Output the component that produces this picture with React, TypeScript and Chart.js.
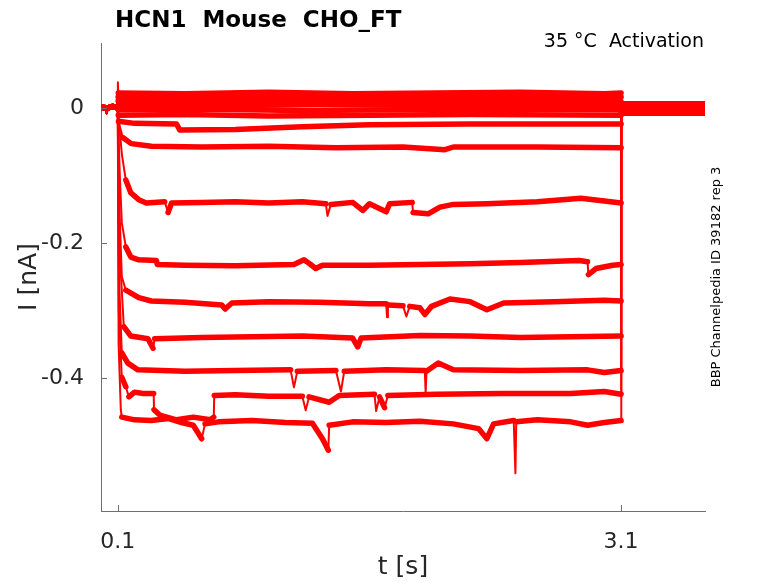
import { useEffect, useRef } from "react";
import { Chart, registerables } from "chart.js";

Chart.register(...registerables);

type Pt = [number, number];

const xTicks = [0.1, 3.1];
const yTicks = [-0.4, -0.2, 0];

// holding level before the step (shared by every sweep)
const baseline: Pt[] = [
  [0, 0.001], [0.028, 0.0], [0.034, -0.008], [0.04, 0.0], [0.07, 0.002], [0.1, 0.0],
];

// current during the 3 s voltage step, one sweep per array
const sweep1: Pt[] = [
  [0.1005, 0.038], [0.103, 0.022], [0.5, 0.021], [1.0, 0.023], [1.5, 0.021],
  [2.0, 0.022], [2.5, 0.023], [3.0, 0.021], [3.1, 0.022],
];
const sweep2: Pt[] = [
  [0.102, 0.016], [0.6, 0.015], [1.2, 0.017], [1.8, 0.015], [2.4, 0.016], [3.1, 0.016],
];
const sweep3: Pt[] = [
  [0.102, 0.01], [0.5, 0.011], [1.1, 0.009], [1.7, 0.011], [2.3, 0.01], [3.1, 0.009],
];
const sweep4: Pt[] = [
  [0.102, 0.004], [0.7, 0.003], [1.3, 0.005], [1.9, 0.004], [2.5, 0.003], [3.1, 0.004],
];
const sweep5: Pt[] = [
  [0.103, -0.003], [0.6, -0.002], [1.2, -0.004], [1.8, -0.003], [2.4, -0.002], [3.1, -0.003],
];
const sweep6: Pt[] = [
  [0.103, -0.011], [0.5, -0.01], [1.0, -0.012], [1.6, -0.011], [2.2, -0.01], [3.1, -0.011],
];
const sweep7: Pt[] = [
  [0.104, -0.02], [0.2, -0.023], [0.45, -0.024], [0.47, -0.033], [0.8, -0.032],
  [1.2, -0.028], [1.6, -0.025], [2.2, -0.024], [3.1, -0.024],
];
const sweep8: Pt[] = [
  [0.104, -0.02], [0.13, -0.044], [0.18, -0.053], [0.3, -0.057], [0.6, -0.058],
  [1.0, -0.057], [1.4, -0.059], [1.8, -0.058], [2.05, -0.062], [2.1, -0.058],
  [2.6, -0.058], [3.1, -0.059],
];
const sweep9: Pt[] = [
  [0.11, -0.03], [0.125, -0.07], [0.148, -0.107], [0.178, -0.126], [0.225, -0.136],
  [0.27, -0.141], [0.38, -0.139], [0.4, -0.155], [0.42, -0.141], [0.6, -0.14],
  [0.8, -0.139], [1.0, -0.141], [1.2, -0.139], [1.34, -0.142], [1.35, -0.16],
  [1.37, -0.143], [1.5, -0.14], [1.56, -0.152], [1.6, -0.142], [1.7, -0.154],
  [1.72, -0.142], [1.855, -0.14], [1.86, -0.155], [1.95, -0.157], [2.02, -0.147],
  [2.1, -0.143], [2.3, -0.142], [2.6, -0.139], [2.86, -0.134], [3.0, -0.138], [3.1, -0.141],
];
const sweep10: Pt[] = [
  [0.112, -0.1], [0.124, -0.17], [0.148, -0.206], [0.178, -0.221], [0.225, -0.225],
  [0.33, -0.226], [0.335, -0.232], [0.5, -0.233], [0.8, -0.234], [1.15, -0.232],
  [1.21, -0.225], [1.25, -0.232], [1.28, -0.238], [1.32, -0.233], [1.6, -0.233],
  [1.9, -0.232], [2.2, -0.231], [2.5, -0.229], [2.85, -0.226], [2.9, -0.228],
  [2.905, -0.247], [2.95, -0.238], [3.05, -0.233], [3.1, -0.232],
];
const sweep11: Pt[] = [
  [0.11, -0.15], [0.124, -0.25], [0.148, -0.27], [0.225, -0.281], [0.3, -0.286],
  [0.5, -0.288], [0.72, -0.292], [0.74, -0.298], [0.78, -0.289], [1.0, -0.287],
  [1.3, -0.288], [1.6, -0.29], [1.7, -0.29], [1.705, -0.31], [1.71, -0.292],
  [1.8, -0.293], [1.82, -0.309], [1.84, -0.294], [1.9, -0.296], [1.93, -0.306],
  [1.97, -0.294], [2.08, -0.283], [2.2, -0.287], [2.3, -0.299], [2.4, -0.289],
  [2.7, -0.287], [3.0, -0.285], [3.1, -0.286],
];
const sweep12: Pt[] = [
  [0.108, -0.2], [0.136, -0.324], [0.178, -0.338], [0.28, -0.342], [0.31, -0.356],
  [0.32, -0.342], [0.6, -0.34], [0.9, -0.339], [1.2, -0.338], [1.5, -0.341],
  [1.53, -0.354], [1.55, -0.341], [1.9, -0.337], [2.2, -0.338], [2.5, -0.34],
  [2.8, -0.339], [3.1, -0.338],
];
const sweep13: Pt[] = [
  [0.107, -0.25], [0.124, -0.363], [0.16, -0.378], [0.22, -0.388], [0.5, -0.39],
  [0.8, -0.389], [1.13, -0.388], [1.15, -0.414], [1.17, -0.39], [1.4, -0.389],
  [1.43, -0.42], [1.45, -0.39], [1.7, -0.388], [1.93, -0.389], [1.935, -0.422],
  [1.94, -0.39], [2.01, -0.378], [2.1, -0.388], [2.5, -0.389], [2.9, -0.388],
  [3.0, -0.392], [3.1, -0.389],
];
const sweep14: Pt[] = [
  [0.106, -0.3], [0.124, -0.399], [0.148, -0.413], [0.166, -0.428], [0.2, -0.421],
  [0.25, -0.423], [0.314, -0.423], [0.316, -0.447], [0.35, -0.455], [0.45, -0.462],
  [0.55, -0.458], [0.65, -0.462], [0.672, -0.458], [0.675, -0.426], [0.8, -0.425],
  [1.0, -0.427], [1.2, -0.427], [1.22, -0.448], [1.24, -0.428], [1.36, -0.436],
  [1.42, -0.426], [1.63, -0.424], [1.64, -0.449], [1.66, -0.428], [1.69, -0.444],
  [1.71, -0.426], [2.0, -0.424], [2.4, -0.423], [2.8, -0.423], [3.0, -0.42], [3.1, -0.424],
];
const sweep15: Pt[] = [
  [0.105, -0.35], [0.118, -0.447], [0.124, -0.458], [0.2, -0.462], [0.3, -0.463],
  [0.4, -0.46], [0.48, -0.466], [0.55, -0.47], [0.6, -0.49], [0.62, -0.468],
  [0.7, -0.465], [0.9, -0.463], [1.1, -0.466], [1.26, -0.467], [1.32, -0.49],
  [1.355, -0.507], [1.36, -0.47], [1.5, -0.465], [1.7, -0.466], [1.9, -0.464],
  [2.1, -0.468], [2.25, -0.475], [2.3, -0.49], [2.34, -0.468], [2.46, -0.463],
  [2.47, -0.541], [2.475, -0.465], [2.6, -0.462], [2.8, -0.465], [2.9, -0.47],
  [3.0, -0.466], [3.1, -0.463],
];

const sweeps = [
  sweep1, sweep2, sweep3, sweep4, sweep5, sweep6, sweep7, sweep8,
  sweep9, sweep10, sweep11, sweep12, sweep13, sweep14, sweep15,
];

// level each sweep returns to after the step ends
const tailLevels = [
  0.006, 0.005, 0.004, 0.003, 0.002, 0.001, 0.0, -0.001,
  -0.002, -0.003, -0.004, -0.005, -0.006, -0.007, -0.008,
];

const RED = "#ff0000";
const AXIS = "#707070";
const TEXT = "#262626";
const FONT = "'DejaVu Sans', sans-serif";

const decor = {
  id: "decor",
  afterDraw(chart: Chart) {
    const { ctx, chartArea, scales } = chart;
    ctx.save();
    ctx.strokeStyle = AXIS;
    ctx.lineWidth = 1;
    ctx.beginPath();
    for (const v of yTicks) {
      const y = Math.round(scales.y.getPixelForValue(v)) + 0.5;
      ctx.moveTo(chartArea.left, y);
      ctx.lineTo(chartArea.left + 6, y);
    }
    for (const v of xTicks) {
      const x = Math.round(scales.x.getPixelForValue(v)) + 0.5;
      ctx.moveTo(x, chartArea.bottom);
      ctx.lineTo(x, chartArea.bottom - 6);
    }
    ctx.stroke();

    ctx.fillStyle = "#000";
    ctx.font = `bold 23px ${FONT}`;
    ctx.textAlign = "left";
    ctx.textBaseline = "alphabetic";
    ctx.fillText("HCN1  Mouse  CHO_FT", 115, 27);

    ctx.font = `19px ${FONT}`;
    ctx.textAlign = "right";
    ctx.fillText("35 °C  Activation", 704, 47);

    ctx.fillStyle = TEXT;
    ctx.font = `25px ${FONT}`;
    ctx.textAlign = "center";
    ctx.textBaseline = "middle";
    ctx.fillText("t [s]", 403, 567);

    ctx.save();
    ctx.translate(29, 277);
    ctx.rotate(-Math.PI / 2);
    ctx.fillText("I [nA]", 0, 0);
    ctx.restore();

    ctx.save();
    ctx.fillStyle = "#000";
    ctx.font = `13px ${FONT}`;
    ctx.translate(717, 277);
    ctx.rotate(-Math.PI / 2);
    ctx.fillText("BBP Channelpedia ID 39182 rep 3", 0, 0);
    ctx.restore();

    ctx.restore();
  },
};

export default function App() {
  const canvasRef = useRef<HTMLCanvasElement>(null);
  const chartRef = useRef<Chart | null>(null);

  useEffect(() => {
    const canvas = canvasRef.current;
    if (!canvas) return;
    if (chartRef.current) chartRef.current.destroy();

    const datasets = sweeps.map((sweep, i) => {
      const pts: Pt[] = [
        ...baseline,
        ...sweep,
        [3.101, tailLevels[i]],
        [3.6, tailLevels[i]],
      ];
      return {
        data: pts.map(([x, y]) => ({ x, y })),
        borderColor: RED,
        borderWidth: 5.5,
        borderJoinStyle: "round" as const,
        borderCapStyle: "round" as const,
        pointRadius: 0,
        tension: 0,
        segment: {
          // steep parts (step edges, decays, spikes) are thin, noisy plateaus thick
          borderWidth: (c: any) => {
            const dx = Math.abs(c.p1.x - c.p0.x);
            const dy = Math.abs(c.p1.y - c.p0.y);
            return dy > 2 * dx + 3 ? 2 : 5.5;
          },
        },
      };
    });

    chartRef.current = new Chart(canvas, {
      type: "line",
      data: { datasets },
      plugins: [decor],
      options: {
        animation: false,
        responsive: true,
        maintainAspectRatio: false,
        layout: { padding: { left: 0, top: 43, right: 73, bottom: 0 } },
        plugins: {
          legend: { display: false },
          tooltip: { enabled: false },
        },
        scales: {
          x: {
            type: "linear",
            min: 0,
            max: 3.6,
            grid: { display: false },
            border: { display: true, color: AXIS, width: 1 },
            afterBuildTicks: (s: any) => {
              s.ticks = xTicks.map((value) => ({ value }));
            },
            afterFit: (s: any) => {
              s.height = 72;
            },
            ticks: {
              color: TEXT,
              font: { size: 22, family: FONT },
              padding: 10,
              maxRotation: 0,
              autoSkip: false,
              callback: (v: any) => String(v),
            },
          },
          y: {
            type: "linear",
            min: -0.597,
            max: 0.096,
            grid: { display: false },
            border: { display: true, color: AXIS, width: 1 },
            afterBuildTicks: (s: any) => {
              s.ticks = yTicks.map((value) => ({ value }));
            },
            afterFit: (s: any) => {
              s.width = 101;
            },
            ticks: {
              color: TEXT,
              font: { size: 22, family: FONT },
              padding: 9,
              autoSkip: false,
              callback: (v: any) => String(v),
            },
          },
        },
      },
    });

    return () => {
      chartRef.current?.destroy();
      chartRef.current = null;
    };
  }, []);

  return (
    <div
      style={{
        position: "fixed",
        left: 0,
        top: 0,
        width: 778,
        height: 583,
        background: "#fff",
      }}
    >
      <canvas
        ref={canvasRef}
        role="img"
        aria-label="HCN1 mouse CHO_FT activation current traces at 35 °C"
      />
    </div>
  );
}
